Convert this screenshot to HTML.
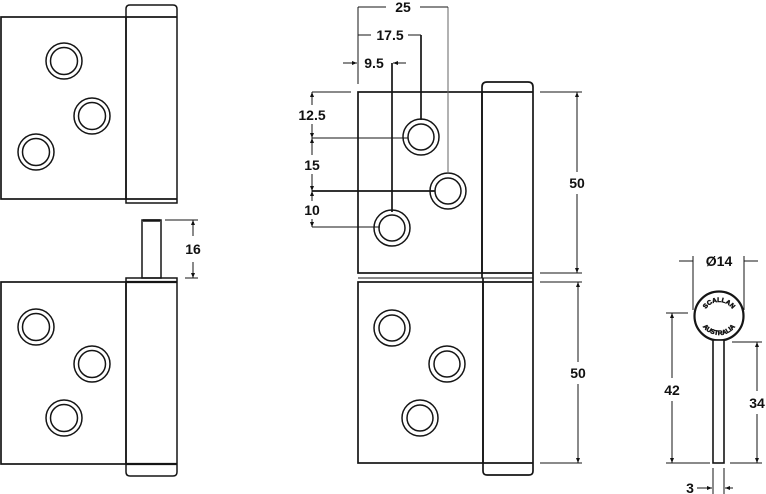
<!DOCTYPE html>
<html>
<head>
<meta charset="utf-8">
<style>
  html,body{margin:0;padding:0;background:#fff;}
  body{width:766px;height:494px;overflow:hidden;}
  svg{display:block;}
  text{font-family:"Liberation Sans",Arial,sans-serif;font-weight:bold;font-size:14px;fill:#111;}
</style>
</head>
<body>
<svg width="766" height="494" viewBox="0 0 766 494" xmlns="http://www.w3.org/2000/svg">
  <defs>
    <marker id="ar" viewBox="0 0 10 10" refX="10" refY="5" markerWidth="5" markerHeight="5" orient="auto-start-reverse">
      <path d="M0,1 L10,5 L0,9 z" fill="#111"/>
    </marker>
  </defs>
  <g fill="none" stroke="#151515" stroke-width="1.7">
    <!-- ===== LEFT TOP HINGE ===== -->
    <rect x="1" y="17" width="125" height="182"/>
    <path d="M126,203 L126,9 Q126,5 130,5 L173,5 Q177,5 177,9 L177,203 Z" stroke-width="1.5"/>
    <line x1="126" y1="17" x2="177" y2="17"/>
    <line x1="126" y1="199" x2="177" y2="199"/>
    <g stroke-width="1.5">
      <circle cx="64" cy="61" r="18"/><circle cx="64" cy="61" r="13.5"/>
      <circle cx="92" cy="116" r="18"/><circle cx="92" cy="116" r="13.5"/>
      <circle cx="36" cy="152" r="18"/><circle cx="36" cy="152" r="13.5"/>
    </g>

    <!-- ===== LEFT BOTTOM HINGE ===== -->
    <rect x="142" y="220" width="19" height="58" stroke-width="1.5"/>
    <line x1="143" y1="220.5" x2="160" y2="220.5" stroke-width="2.5"/>
    <rect x="1" y="282" width="125" height="182"/>
    <path d="M126,278 L177,278 L177,472 Q177,476 173,476 L130,476 Q126,476 126,472 Z" stroke-width="1.5"/>
    <line x1="126" y1="282" x2="177" y2="282" stroke-width="2.2"/>
    <line x1="126" y1="464" x2="177" y2="464" stroke-width="2.2"/>
    <g stroke-width="1.5">
      <circle cx="36" cy="327" r="18"/><circle cx="36" cy="327" r="13.5"/>
      <circle cx="92" cy="364" r="18"/><circle cx="92" cy="364" r="13.5"/>
      <circle cx="64" cy="418" r="18"/><circle cx="64" cy="418" r="13.5"/>
    </g>

    <!-- dimension 16 -->
    <g stroke-width="1">
      <line x1="165" y1="220" x2="198" y2="220"/>
      <line x1="185" y1="278" x2="198" y2="278"/>
      <line x1="193" y1="220" x2="193" y2="236" marker-start="url(#ar)"/>
      <line x1="193" y1="262" x2="193" y2="278" marker-end="url(#ar)"/>
    </g>

    <!-- ===== MIDDLE TOP HINGE ===== -->
    <rect x="358" y="92" width="124" height="181"/>
    <path d="M482,278 L482,87 Q482,82 487,82 L528,82 Q533,82 533,87 L533,278"/>
    <line x1="482" y1="92" x2="533" y2="92"/>
    <line x1="482" y1="273" x2="533" y2="273"/>
    <line x1="358" y1="278" x2="533" y2="278" stroke-width="1"/>
    <g stroke-width="1.5">
      <circle cx="421" cy="137" r="18"/><circle cx="421" cy="137" r="13"/>
      <circle cx="448" cy="191" r="18"/><circle cx="448" cy="191" r="13"/>
      <circle cx="392" cy="228" r="18"/><circle cx="392" cy="228" r="13"/>
    </g>

    <!-- ===== MIDDLE BOTTOM HINGE ===== -->
    <rect x="358" y="282" width="125" height="181"/>
    <path d="M483,278 L483,471 Q483,475 487,475 L529,475 Q533,475 533,471 L533,278"/>
    <line x1="483" y1="282" x2="533" y2="282"/>
    <line x1="483" y1="463" x2="533" y2="463"/>
    <g stroke-width="1.5">
      <circle cx="392" cy="328" r="18"/><circle cx="392" cy="328" r="13"/>
      <circle cx="447" cy="364" r="18"/><circle cx="447" cy="364" r="13"/>
      <circle cx="420" cy="418" r="18"/><circle cx="420" cy="418" r="13"/>
    </g>

    <!-- middle dimensions -->
    <g stroke-width="1">
      <line x1="358" y1="7" x2="358" y2="84"/>
      <line x1="448" y1="7" x2="448" y2="173" stroke="#666"/>
      <line x1="421" y1="35" x2="421" y2="120" stroke-width="1.7"/>
      <line x1="392" y1="63" x2="392" y2="212" stroke-width="1.7"/>
      <!-- 25 -->
      <line x1="358" y1="7" x2="386" y2="7"/>
      <line x1="420" y1="7" x2="448" y2="7"/>
      <!-- 17.5 -->
      <line x1="358" y1="35" x2="371" y2="35"/>
      <line x1="408" y1="35" x2="421" y2="35"/>
      <!-- 9.5 -->
      <line x1="343" y1="63" x2="357" y2="63" marker-end="url(#ar)"/>
      <line x1="406" y1="63" x2="393" y2="63" marker-end="url(#ar)"/>
      <!-- left vertical dims -->
      <line x1="312" y1="92" x2="351" y2="92"/>
      <line x1="312" y1="138" x2="408" y2="138"/>
      <line x1="312" y1="191" x2="435" y2="191" stroke-width="1.7"/>
      <line x1="312" y1="227" x2="380" y2="227"/>
      <line x1="312" y1="92" x2="312" y2="105" marker-start="url(#ar)"/>
      <line x1="312" y1="124" x2="312" y2="138" marker-end="url(#ar)"/>
      <line x1="312" y1="138" x2="312" y2="155" marker-start="url(#ar)"/>
      <line x1="312" y1="174" x2="312" y2="191" marker-end="url(#ar)"/>
      <line x1="312" y1="191" x2="312" y2="201" marker-start="url(#ar)"/>
      <line x1="312" y1="219" x2="312" y2="227" marker-end="url(#ar)"/>
      <!-- right 50 top -->
      <line x1="540" y1="92" x2="582" y2="92"/>
      <line x1="540" y1="273" x2="582" y2="273"/>
      <line x1="577" y1="92" x2="577" y2="172" marker-start="url(#ar)"/>
      <line x1="577" y1="194" x2="577" y2="273" marker-end="url(#ar)"/>
      <!-- right 50 bottom -->
      <line x1="540" y1="282" x2="582" y2="282"/>
      <line x1="540" y1="463" x2="582" y2="463"/>
      <line x1="578" y1="282" x2="578" y2="362" marker-start="url(#ar)"/>
      <line x1="578" y1="384" x2="578" y2="463" marker-end="url(#ar)"/>
    </g>

    <!-- ===== PIN PIECE (RIGHT) ===== -->
    <circle cx="719" cy="316" r="24.5" stroke-width="2.2"/>
    <rect x="713" y="340" width="11" height="123" stroke-width="1.6" fill="#fff"/>
    <g stroke-width="1">
      <!-- Ø14 -->
      <line x1="693" y1="256" x2="693" y2="310"/>
      <line x1="744" y1="256" x2="744" y2="310"/>
      <line x1="679" y1="261" x2="693" y2="261"/>
      <line x1="744" y1="261" x2="758" y2="261"/>
      <!-- 42 -->
      <line x1="666" y1="313" x2="688" y2="313"/>
      <line x1="666" y1="463" x2="710" y2="463"/>
      <line x1="672" y1="313" x2="672" y2="378" marker-start="url(#ar)"/>
      <line x1="672" y1="401" x2="672" y2="463" marker-end="url(#ar)"/>
      <!-- 34 -->
      <line x1="732" y1="342" x2="762" y2="342"/>
      <line x1="730" y1="463" x2="762" y2="463"/>
      <line x1="757" y1="342" x2="757" y2="391" marker-start="url(#ar)"/>
      <line x1="757" y1="414" x2="757" y2="463" marker-end="url(#ar)"/>
      <!-- 3 -->
      <line x1="713" y1="468" x2="713" y2="494"/>
      <line x1="724" y1="468" x2="724" y2="494"/>
      <line x1="697" y1="488" x2="712" y2="488" marker-end="url(#ar)"/>
      <line x1="733" y1="488" x2="725" y2="488" marker-end="url(#ar)"/>
    </g>
  </g>

  <!-- curved text inside pin head -->
  <defs>
    <path id="arcTop" d="M703,318 A16,16 0 0 1 735,318"/>
    <path id="arcBot" d="M699,315 A20,20 0 0 0 739,315"/>
  </defs>
  <text style="font-size:6.5px;stroke:#111;stroke-width:0.5"><textPath href="#arcTop" startOffset="50%" text-anchor="middle">SCALLAN</textPath></text>
  <text style="font-size:6.5px;stroke:#111;stroke-width:0.5"><textPath href="#arcBot" startOffset="50%" text-anchor="middle">AUSTRALIA</textPath></text>

  <!-- labels -->
  <text x="193" y="254" text-anchor="middle">16</text>
  <text x="403" y="12" text-anchor="middle">25</text>
  <text x="390" y="40" text-anchor="middle">17.5</text>
  <text x="374" y="68" text-anchor="middle">9.5</text>
  <text x="312" y="120" text-anchor="middle">12.5</text>
  <text x="312" y="170" text-anchor="middle">15</text>
  <text x="312" y="215" text-anchor="middle">10</text>
  <text x="577" y="188" text-anchor="middle">50</text>
  <text x="578" y="378" text-anchor="middle">50</text>
  <text x="719" y="266" text-anchor="middle">Ø14</text>
  <text x="672" y="395" text-anchor="middle">42</text>
  <text x="757" y="408" text-anchor="middle">34</text>
  <text x="690" y="493" text-anchor="middle">3</text>
</svg>
</body>
</html>
